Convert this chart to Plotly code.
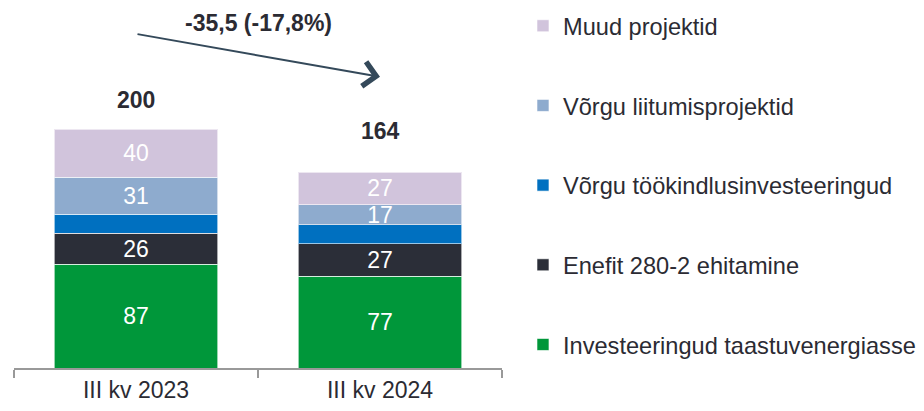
import plotly.graph_objects as go

# data
quarters = ["III kv 2023", "III kv 2024"]
series_names = [
    "Investeeringud taastuvenergiasse",
    "Enefit 280-2 ehitamine",
    "Võrgu töökindlusinvesteeringud",
    "Võrgu liitumisprojektid",
    "Muud projektid",
]
taastuvenergia = [87, 77]
enefit = [26, 27]
tookindlus = [16, 16]
liitumis = [31, 17]
muud = [40, 27]
show_label = [True, True, False, True, True]
change_text = "-35,5 (-17,8%)"

colors = ["#00973a", "#2b2e38", "#0070c0", "#8eabce", "#d1c4dc"]
series_values = [taastuvenergia, enefit, tookindlus, liitumis, muud]
totals = [sum(v) for v in zip(*series_values)]

FONT = "Liberation Sans, Arial, sans-serif"
TEXT = "#2b2b33"

fig = go.Figure()
for i, (name, vals, col, lab) in enumerate(zip(series_names, series_values, colors, show_label)):
    fig.add_trace(go.Bar(
        x=quarters, y=vals, name=name, legendgroup=name,
        legendrank=len(series_names) - i,
        marker=dict(color=col, line=dict(color="rgba(255,255,255,0.6)", width=1)),
        text=[str(v) for v in vals] if lab else None,
        textposition="inside", insidetextanchor="middle",
        textangle=0, constraintext="none",
        textfont=dict(color="white", size=23, family=FONT),
        hoverinfo="name+y",
    ))

# totals above bars
label_shift = [14, 26]
for q, t, s in zip(quarters, totals, label_shift):
    fig.add_annotation(x=q, y=t, text="<b>%d</b>" % t, showarrow=False,
                       yanchor="bottom", yshift=s,
                       font=dict(size=23, color=TEXT, family=FONT))

# change arrow
fig.add_annotation(x=quarters[1], y=244, ax=quarters[0], ay=280,
                   xref="x", yref="y", axref="x", ayref="y",
                   text="", showarrow=True, arrowhead=4, arrowsize=2.4,
                   arrowwidth=2, arrowcolor="#34495a")
fig.add_annotation(x=0.5, y=289, xref="x", yref="y", text="<b>%s</b>" % change_text,
                   showarrow=False, font=dict(size=23, color=TEXT, family=FONT))

# page body adds an 8px margin, so the figure is 8px smaller than the window
fig.update_layout(
    width=916, height=403,
    barmode="stack", bargap=0.33,
    plot_bgcolor="white", paper_bgcolor="white",
    margin=dict(l=6, r=422, t=2, b=43, autoexpand=False),
    font=dict(family=FONT, color=TEXT, size=23),
    legend=dict(
        x=1.043, y=1.017, xanchor="left", yanchor="top",
        traceorder="grouped", tracegroupgap=46, maxheight=403,
        font=dict(size=23.6, color=TEXT, family=FONT),
        itemclick=False, itemdoubleclick=False,
    ),
    xaxis=dict(
        range=[-0.5, 1.5], showline=True, linecolor="#999999", linewidth=2,
        ticks="outside", tickson="boundaries", ticklen=8, tickcolor="#999999",
        tickwidth=2, tickfont=dict(size=23, color=TEXT, family=FONT),
        showgrid=False,
    ),
    yaxis=dict(range=[0, 300], visible=False, showgrid=False),
)

fig.write_html("out.html")
